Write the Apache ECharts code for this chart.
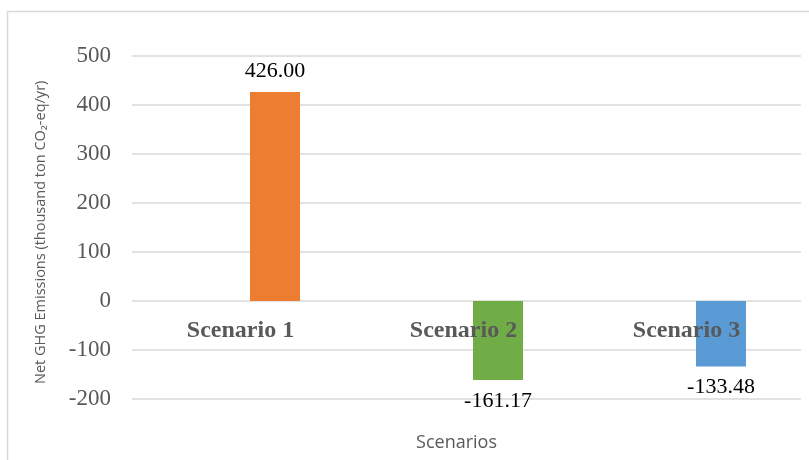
<!DOCTYPE html>
<html>
<head>
<meta charset="utf-8">
<script src="https://cdn.jsdelivr.net/npm/echarts@6/dist/echarts.min.js"></script>
<style>html,body{margin:0;padding:0;background:#fff;}#chart{width:809px;height:460px;}</style>
</head>
<body>
<div id="chart"></div>
<script>
var categories = ['Scenario 1', 'Scenario 2', 'Scenario 3'];
var values = [426.00, -161.17, -133.48];
var placeholder = [null, null, null];
var yTicks = { min: -200, max: 500, interval: 100 };
var barColors = ['#ED7D31', '#70AD47', '#5B9BD5'];

var chart = echarts.init(document.getElementById('chart'), null, { renderer: 'canvas' });
var option = {
  backgroundColor: '#ffffff',
  animation: false,
  graphic: [{
    type: 'rect', silent: true,
    shape: { x: 7.5, y: 11.5, width: 900, height: 600 },
    style: { fill: 'none', stroke: '#d9d9d9', lineWidth: 1.5 }
  }],
  grid: { left: 132, right: 8, top: 55.7, bottom: 61, containLabel: false, outerBoundsMode: 'none' },
  xAxis: {
    type: 'category',
    data: categories,
    z: 5,
    axisLine: { show: false, onZero: false },
    axisTick: { show: false },
    axisLabel: {
      fontFamily: 'Liberation Serif', fontWeight: 'bold', fontSize: 24,
      color: '#595959', margin: -80, padding: [0, 6, 0, 0]
    },
    name: 'Scenarios',
    nameLocation: 'middle',
    nameGap: 35,
    nameTextStyle: { fontFamily: 'Open Sans', fontSize: 18, color: '#595959', padding: [0, 20, 0, 0] }
  },
  yAxis: {
    type: 'value',
    min: yTicks.min, max: yTicks.max, interval: yTicks.interval,
    axisLine: { show: false },
    axisTick: { show: false },
    splitLine: { lineStyle: { color: '#d9d9d9', width: 1.5 } },
    axisLabel: { fontFamily: 'Liberation Serif', fontSize: 23, color: '#595959', margin: 21 },
    name: 'Net GHG Emissions (thousand ton CO\u2082-eq/yr)',
    nameLocation: 'middle',
    nameRotate: 90,
    nameGap: 84,
    nameTextStyle: { fontFamily: 'Open Sans', fontSize: 14.5, color: '#595959', padding: [0, 10, 0, 0] }
  },
  series: [
    { type: 'bar', data: placeholder, barWidth: 50, barGap: '26%' },
    {
      type: 'bar', barWidth: 50, barGap: '26%',
      data: values.map(function (v, i) {
        return { value: v, itemStyle: { color: barColors[i] } };
      }),
      label: {
        show: true, position: 'outside', distance: 10,
        fontFamily: 'Liberation Serif', fontSize: 22, color: '#000000',
        formatter: function (p) { return p.value.toFixed(2); }
      }
    }
  ]
};
chart.setOption(option);
</script>
</body>
</html>
